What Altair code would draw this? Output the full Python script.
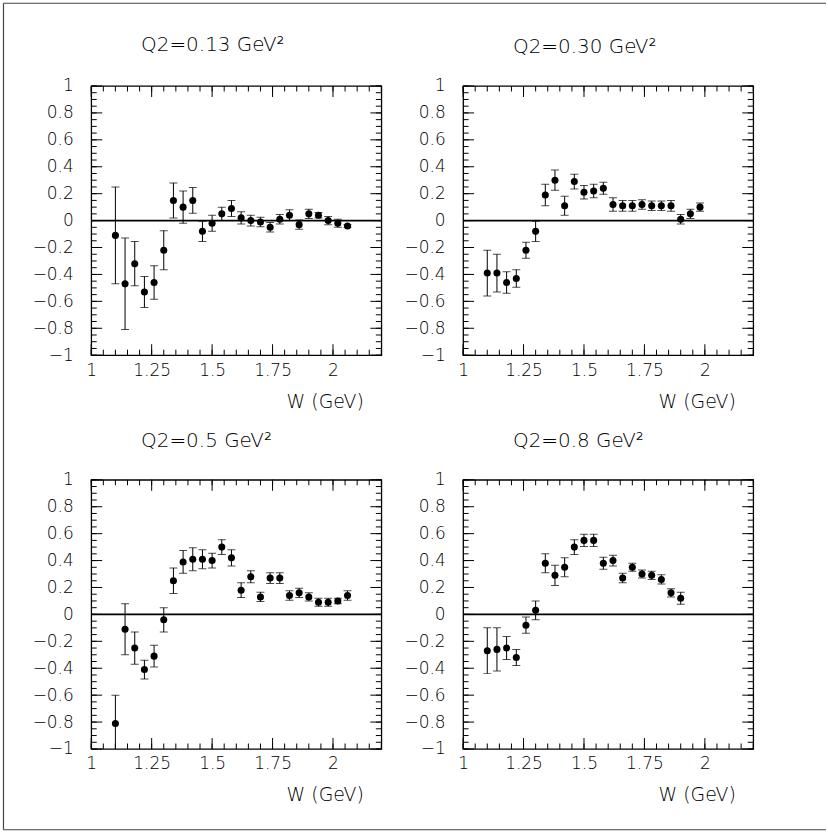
import altair as alt
import pandas as pd

# ---------------- data ----------------
W1 = [1.10, 1.14, 1.18, 1.22, 1.26, 1.30, 1.34, 1.38, 1.42, 1.46, 1.50, 1.54, 1.58,
      1.62, 1.66, 1.70, 1.74, 1.78, 1.82, 1.86, 1.90, 1.94, 1.98, 2.02, 2.06]
A1 = [-0.11, -0.47, -0.32, -0.53, -0.46, -0.22, 0.15, 0.10, 0.15, -0.08, -0.02, 0.05, 0.09,
      0.02, 0.00, -0.01, -0.05, 0.01, 0.04, -0.03, 0.05, 0.04, 0.00, -0.02, -0.04]
E1 = [0.36, 0.34, 0.165, 0.115, 0.125, 0.145, 0.13, 0.12, 0.095, 0.075, 0.06, 0.05, 0.06,
      0.045, 0.04, 0.035, 0.035, 0.035, 0.04, 0.035, 0.035, 0.02, 0.03, 0.03, 0.01]

W2 = [1.10, 1.14, 1.18, 1.22, 1.26, 1.30, 1.34, 1.38, 1.42, 1.46, 1.50, 1.54, 1.58,
      1.62, 1.66, 1.70, 1.74, 1.78, 1.82, 1.86, 1.90, 1.94, 1.98]
A2 = [-0.39, -0.39, -0.46, -0.43, -0.22, -0.08, 0.19, 0.30, 0.11, 0.29, 0.21, 0.22, 0.24,
      0.12, 0.11, 0.11, 0.12, 0.11, 0.11, 0.11, 0.01, 0.05, 0.10]
E2 = [0.17, 0.14, 0.08, 0.065, 0.06, 0.075, 0.08, 0.075, 0.07, 0.055, 0.05, 0.05, 0.045,
      0.05, 0.04, 0.04, 0.035, 0.035, 0.035, 0.04, 0.035, 0.035, 0.03]

W3 = [1.10, 1.14, 1.18, 1.22, 1.26, 1.30, 1.34, 1.38, 1.42, 1.46, 1.50, 1.54, 1.58,
      1.62, 1.66, 1.70, 1.74, 1.78, 1.82, 1.86, 1.90, 1.94, 1.98, 2.02, 2.06]
A3 = [-0.81, -0.11, -0.25, -0.41, -0.31, -0.04, 0.25, 0.39, 0.41, 0.41, 0.40, 0.50, 0.42,
      0.18, 0.28, 0.13, 0.27, 0.27, 0.14, 0.16, 0.13, 0.09, 0.09, 0.10, 0.14]
E3 = [0.21, 0.19, 0.12, 0.07, 0.08, 0.09, 0.095, 0.085, 0.085, 0.07, 0.055, 0.055, 0.06,
      0.055, 0.045, 0.035, 0.04, 0.04, 0.035, 0.035, 0.03, 0.03, 0.03, 0.02, 0.035]

W4 = [1.10, 1.14, 1.18, 1.22, 1.26, 1.30, 1.34, 1.38, 1.42, 1.46, 1.50, 1.54, 1.58,
      1.62, 1.66, 1.70, 1.74, 1.78, 1.82, 1.86, 1.90]
A4 = [-0.27, -0.26, -0.25, -0.32, -0.08, 0.03, 0.38, 0.29, 0.35, 0.50, 0.55, 0.55, 0.38,
      0.40, 0.27, 0.35, 0.30, 0.29, 0.26, 0.16, 0.12]
E4 = [0.17, 0.16, 0.085, 0.06, 0.06, 0.07, 0.07, 0.075, 0.07, 0.055, 0.045, 0.045, 0.045,
      0.04, 0.035, 0.03, 0.03, 0.03, 0.035, 0.03, 0.045]

TITLES = ["Q2=0.13 GeV²", "Q2=0.30 GeV²", "Q2=0.5 GeV²", "Q2=0.8 GeV²"]
X_LABELS = [1, 1.25, 1.5, 1.75, 2]
Y_LABELS = [-1, -0.8, -0.6, -0.4, -0.2, 0, 0.2, 0.4, 0.6, 0.8, 1]
X_MINOR = [round(1 + 0.05 * i, 2) for i in range(25)]
Y_MINOR = [round(-1 + 0.05 * i, 2) for i in range(41)]

# ---------------- style ----------------
FONT = "DejaVu Sans"
FW = 200
PW, PH = 291, 270
MAJ, MIN = 11, 5.5

XS = alt.Scale(domain=[1, 2.2], nice=False, zero=False)
YS = alt.Scale(domain=[-1, 1], nice=False, zero=False)

X_AXIS = alt.Axis(values=X_LABELS, format=".2~f", ticks=False, domain=False, grid=False,
                  labelFontSize=17, labelFont=FONT, labelFontWeight=FW, labelColor="black",
                  labelPadding=7, labelFlush=False, title="W (GeV)", titleFont=FONT,
                  titleFontSize=19, titleFontWeight=FW, titleColor="black",
                  titleAlign="right", titleAnchor="end", titleX=PW - 18, titleY=52,
                  titleBaseline="alphabetic")
Y_AXIS = alt.Axis(values=Y_LABELS, format=".1~f", ticks=False, domain=False, grid=False,
                  labelFontSize=17, labelFont=FONT, labelFontWeight=FW, labelColor="black",
                  labelPadding=18, labelFlush=False, title="")


def xe(field):
    return alt.X(field, type="quantitative", scale=XS, axis=X_AXIS)


def ye(field):
    return alt.Y(field, type="quantitative", scale=YS, axis=Y_AXIS)


def panel(W, A, E, title, title_offset, border=False):
    df = pd.DataFrame({"W": W, "A": A, "E": E})
    df["lo"] = df["A"] - df["E"]
    df["hi"] = df["A"] + df["E"]
    base = alt.Chart(df)

    pts = base.mark_circle(color="black", opacity=1, size=50).encode(x=xe("W"), y=ye("A"))
    zero = alt.Chart(pd.DataFrame({"z": [0]})).mark_rule(color="black", strokeWidth=1.8).encode(
        y=ye("z"))
    bars = base.mark_rule(color="black", strokeWidth=1, clip=True).encode(
        x=xe("W"), y=ye("lo"), y2="hi")
    cap_lo = base.mark_tick(color="black", thickness=1, size=8, orient="horizontal",
                            clip=True).encode(x=xe("W"), y=ye("lo"))
    cap_hi = base.mark_tick(color="black", thickness=1, size=8, orient="horizontal",
                            clip=True).encode(x=xe("W"), y=ye("hi"))

    # inward ticks on all four sides
    xmaj = pd.DataFrame({"t": X_LABELS})
    xmin = pd.DataFrame({"t": X_MINOR})
    ymaj = pd.DataFrame({"t": Y_LABELS})
    ymin = pd.DataFrame({"t": Y_MINOR})
    tick_layers = []
    for d, ln in ((xmaj, MAJ), (xmin, MIN)):
        tick_layers.append(alt.Chart(d).mark_rule(color="black", strokeWidth=1).encode(
            x=xe("t"), y=alt.value(PH), y2=alt.value(PH - ln)))
        tick_layers.append(alt.Chart(d).mark_rule(color="black", strokeWidth=1).encode(
            x=xe("t"), y=alt.value(0), y2=alt.value(ln)))
    for d, ln in ((ymaj, MAJ), (ymin, MIN)):
        tick_layers.append(alt.Chart(d).mark_rule(color="black", strokeWidth=1).encode(
            y=ye("t"), x=alt.value(0), x2=alt.value(ln)))
        tick_layers.append(alt.Chart(d).mark_rule(color="black", strokeWidth=1).encode(
            y=ye("t"), x=alt.value(PW), x2=alt.value(PW - ln)))

    layers = [pts, zero, bars, cap_lo, cap_hi] + tick_layers
    if border:
        bd = pd.DataFrame({"b": [0]})
        layers += [
            alt.Chart(bd).mark_rule(color="#444", strokeWidth=1.2).encode(
                x=alt.value(-88), x2=alt.value(737), y=alt.value(-83)),
            alt.Chart(bd).mark_rule(color="#444", strokeWidth=1.2).encode(
                x=alt.value(-88), y=alt.value(-83), y2=alt.value(746)),
            alt.Chart(bd).mark_rule(color="#444", strokeWidth=1.2).encode(
                x=alt.value(-88), x2=alt.value(737), y=alt.value(746)),
        ]
    return alt.layer(*layers).properties(
        width=PW, height=PH,
        title=alt.TitleParams(text=title, anchor="start", frame="group", dx=50,
                              offset=title_offset, font=FONT, fontSize=20,
                              fontWeight=FW, color="black", baseline="alphabetic"))


p1 = panel(W1, A1, E1, TITLES[0], -68.6, border=True)
p2 = panel(W2, A2, E2, TITLES[1], 4)
p3 = panel(W3, A3, E3, TITLES[2], 4)
p4 = panel(W4, A4, E4, TITLES[3], 4)

chart = alt.concat(p1, p2, p3, p4, columns=2,
                   spacing=alt.RowColnumber(row=125, column=82),
                   bounds="flush").properties(
    padding={"left": 1.5, "top": 0, "right": 0, "bottom": 0},
    background="white",
).configure_view(stroke="black", strokeWidth=1.3)

chart.save("out.html", embed_options={"renderer": "svg", "actions": False})
